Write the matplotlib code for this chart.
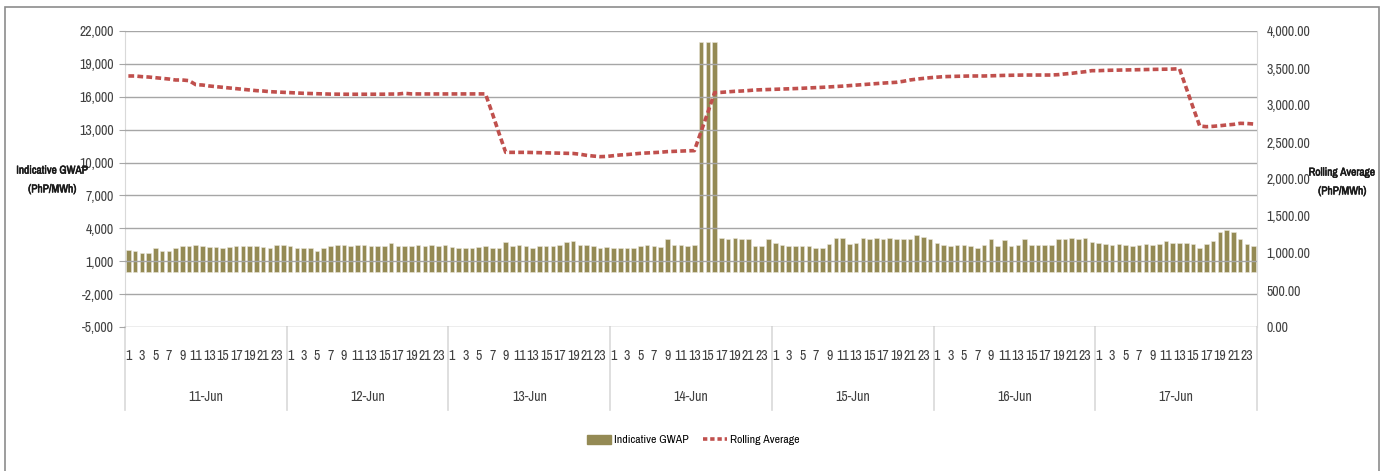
import numpy as np
import matplotlib
matplotlib.use('Agg')
import matplotlib.pyplot as plt
import matplotlib.transforms as mtransforms
import matplotlib.patheffects as pe
from matplotlib import font_manager as fm
from matplotlib.patches import Rectangle, Patch
from matplotlib.lines import Line2D
from matplotlib.ticker import FuncFormatter, FixedLocator

# pick a narrow font if one is there (the original looks like condensed Calibri)
names = sorted(set(f.name for f in fm.fontManager.ttflist))
narrow = [n for n in names if 'Narrow' in n or 'Condensed' in n]
if narrow:
    plt.rcParams['font.family'] = [narrow[0], 'DejaVu Sans']
    FS = 10
else:
    plt.rcParams['font.family'] = ['Liberation Sans', 'DejaVu Sans']
    FS = 9
bold_file = fm.findfont(fm.FontProperties(family=plt.rcParams['font.family'], weight='bold'))
fake_bold = 'bold' not in bold_file.lower()

# data
days = ['11-Jun', '12-Jun', '13-Jun', '14-Jun', '15-Jun', '16-Jun', '17-Jun']
hours = list(range(1, 25))

gwap_11 = [1990, 1900, 1710, 1710, 2170, 1900, 1900, 2170, 2390, 2390, 2480, 2390,
           2300, 2300, 2170, 2300, 2390, 2390, 2390, 2390, 2300, 2170, 2480, 2480]
gwap_12 = [2390, 2170, 2170, 2170, 1900, 2170, 2390, 2480, 2480, 2390, 2480, 2480,
           2390, 2390, 2390, 2690, 2390, 2390, 2390, 2480, 2390, 2480, 2390, 2480]
gwap_13 = [2300, 2170, 2170, 2170, 2300, 2390, 2170, 2170, 2750, 2390, 2480, 2390,
           2170, 2390, 2390, 2390, 2480, 2750, 2850, 2480, 2480, 2390, 2170, 2300]
gwap_14 = [2170, 2170, 2170, 2170, 2390, 2480, 2390, 2300, 3060, 2480, 2480, 2390,
           2480, 21000, 21000, 21000, 3150, 3060, 3150, 3060, 3060, 2390, 2390, 3060]
gwap_15 = [2690, 2480, 2390, 2390, 2390, 2390, 2170, 2170, 2600, 3150, 3150, 2600,
           2690, 3150, 3060, 3150, 3060, 3150, 3060, 3060, 3060, 3370, 3240, 3060]
gwap_16 = [2690, 2480, 2390, 2480, 2480, 2390, 2170, 2480, 3060, 2390, 2970, 2390,
           2480, 3060, 2480, 2480, 2480, 2480, 3060, 3060, 3150, 3060, 3150, 2780]
gwap_17 = [2690, 2600, 2480, 2600, 2480, 2390, 2480, 2600, 2480, 2600, 2850, 2690,
           2690, 2690, 2600, 2170, 2600, 2850, 3700, 3830, 3700, 3060, 2600, 2390]

roll_11 = [3392, 3392, 3383, 3378, 3369, 3360, 3351, 3338, 3338, 3329, 3275, 3270,
           3257, 3248, 3239, 3230, 3221, 3212, 3203, 3194, 3189, 3180, 3176, 3171]
roll_12 = [3167, 3162, 3158, 3155, 3152, 3149, 3147, 3146, 3145, 3145, 3145, 3145,
           3145, 3146, 3146, 3148, 3148, 3158, 3150, 3149, 3149, 3149, 3149, 3149]
roll_13 = [3149, 3149, 3149, 3149, 3150, 3150, 2890, 2620, 2360, 2360, 2360, 2360,
           2358, 2356, 2355, 2352, 2350, 2348, 2345, 2335, 2320, 2310, 2302, 2305]
roll_14 = [2315, 2325, 2330, 2338, 2347, 2352, 2358, 2362, 2370, 2374, 2378, 2381,
           2383, 2640, 2900, 3167, 3171, 3178, 3185, 3189, 3195, 3203, 3206, 3209]
roll_15 = [3212, 3215, 3218, 3222, 3226, 3230, 3235, 3239, 3244, 3248, 3255, 3262,
           3270, 3277, 3284, 3290, 3296, 3302, 3307, 3320, 3338, 3350, 3360, 3369]
roll_16 = [3376, 3383, 3386, 3388, 3390, 3392, 3392, 3392, 3395, 3398, 3400, 3402,
           3405, 3405, 3405, 3405, 3405, 3405, 3410, 3420, 3428, 3440, 3450, 3464]
roll_17 = [3464, 3468, 3470, 3472, 3473, 3476, 3478, 3480, 3481, 3482, 3484, 3486,
           3490, 3230, 2970, 2716, 2707, 2712, 2720, 2730, 2738, 2752, 2750, 2743]

left_ticks = [-5000, -2000, 1000, 4000, 7000, 10000, 13000, 16000, 19000, 22000]
right_ticks = [0, 500, 1000, 1500, 2000, 2500, 3000, 3500, 4000]

gwap = gwap_11 + gwap_12 + gwap_13 + gwap_14 + gwap_15 + gwap_16 + gwap_17
rolling = roll_11 + roll_12 + roll_13 + roll_14 + roll_15 + roll_16 + roll_17

BAR_COL = '#948A54'
LINE_COL = '#C0504D'
GRID_COL = '#A6A6A6'
SEP_COL = '#D9D9D9'
TXT_COL = '#404040'

fig = plt.figure(figsize=(13.87, 4.71), dpi=100)
ax = fig.add_axes([125/1387, 1 - 327/471, (1257 - 125)/1387, (327 - 31)/471])
ax2 = ax.twinx()

x = np.arange(len(gwap))
ax.bar(x, gwap, width=0.68, color=BAR_COL, edgecolor='#E8E6D8', linewidth=0.4, zorder=1)
ax.set_ylim(left_ticks[0], left_ticks[-1])
ax.yaxis.set_major_locator(FixedLocator(left_ticks))
ax.yaxis.set_major_formatter(FuncFormatter(lambda v, p: '{:,.0f}'.format(v)))
ax.grid(axis='y', color=GRID_COL, linewidth=1.0, zorder=2)
ax.set_axisbelow(False)
ax.set_xlim(-0.5, len(gwap) - 0.5)

ax2.plot(x, rolling, color=LINE_COL, linewidth=2.6, dashes=(1.6, 0.9), zorder=3)
ax2.set_ylim(right_ticks[0], right_ticks[-1])
ax2.yaxis.set_major_locator(FixedLocator(right_ticks))
ax2.yaxis.set_major_formatter(FuncFormatter(lambda v, p: '{:,.2f}'.format(v)))

for a in (ax, ax2):
    for s in a.spines.values():
        s.set_visible(False)
    a.tick_params(axis='y', labelsize=FS, colors=TXT_COL, length=0)
ax.tick_params(axis='y', length=4, color=GRID_COL, pad=4)
ax2.tick_params(axis='y', pad=7)
ax.spines['left'].set_visible(True)
ax.spines['left'].set_color(SEP_COL)
ax.spines['right'].set_visible(True)
ax.spines['right'].set_color(SEP_COL)

# hour labels (odd hours)
ticks = [i for i in x if hours[i % 24] % 2 == 1]
ax.set_xticks(ticks)
ax.set_xticklabels([str(hours[i % 24]) for i in ticks], fontsize=FS, color=TXT_COL)
ax.tick_params(axis='x', length=0, pad=16)

# day labels and separators
trans = mtransforms.blended_transform_factory(ax.transData, ax.transAxes)
for d, name in enumerate(days):
    ax.text(d * 24 + 11.5, -0.235, name, transform=trans, ha='center', va='center',
            fontsize=FS, color=TXT_COL)
for d in range(len(days) + 1):
    ax.plot([d * 24 - 0.5] * 2, [0, -0.28], transform=trans, color=SEP_COL,
            linewidth=1.2, clip_on=False)

effects = [pe.withStroke(linewidth=0.4, foreground='#1a1a1a')] if fake_bold else None
fig.text(52/1387, 1 - 180/471, 'Indicative GWAP\n(PhP/MWh)', ha='center', va='center',
         fontsize=FS - 1.8, fontweight='bold', color='#1a1a1a', linespacing=2.1,
         path_effects=effects)
fig.text(1342/1387, 1 - 182/471, 'Rolling Average\n(PhP/MWh)', ha='center', va='center',
         fontsize=FS - 1.8, fontweight='bold', color='#1a1a1a', linespacing=2.1,
         path_effects=effects)

handles = [Patch(facecolor=BAR_COL, edgecolor=BAR_COL),
           Line2D([0], [0], color=LINE_COL, linewidth=2.6, dashes=(1.2, 0.8))]
fig.legend(handles, ['Indicative GWAP', 'Rolling Average'], loc='center',
           bbox_to_anchor=(693/1387, 1 - 440/471), ncol=2, frameon=False,
           fontsize=FS - 1.5, handlelength=2.1, handleheight=0.8,
           columnspacing=1.2, handletextpad=0.2)

fig.patches.append(Rectangle((5/1387, -0.05), (1379 - 5)/1387, 1.05 - 7/471,
                             transform=fig.transFigure, fill=False,
                             edgecolor='#8C8C8C', linewidth=1.2))

fig.savefig('out.png', dpi=100)
